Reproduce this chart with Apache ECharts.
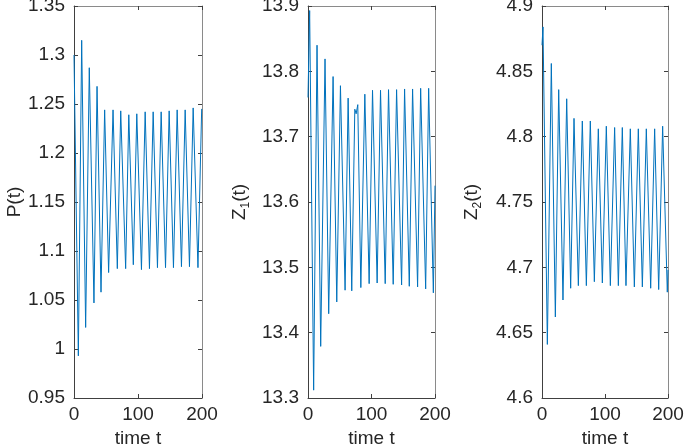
<!DOCTYPE html>
<html><head><meta charset="utf-8">
<script src="https://cdn.jsdelivr.net/npm/echarts@6/dist/echarts.min.js"></script>
<style>html,body{margin:0;padding:0;background:#fff}#c{width:685px;height:445px}</style>
</head><body><div id="c"></div>
<script>
// P(t): times and values at turning points
const tP = [0, 6.8, 12, 18.2, 23.9, 31.2, 36, 42.2, 47.9, 54.1, 61, 67.7, 73, 80.7, 85.6, 92.7, 98.1, 105.4, 111.2, 117.9, 123.7, 130.4, 136.2, 143, 148.7, 155.4, 161.2, 167.9, 173.7, 180.4, 186.2, 193.7, 199.5];
const P  = [1.30, 0.993, 1.315, 1.022, 1.287, 1.047, 1.268, 1.058, 1.244, 1.078, 1.244, 1.082, 1.243, 1.082, 1.239, 1.086, 1.240, 1.081, 1.242, 1.082, 1.242, 1.083, 1.242, 1.083, 1.243, 1.083, 1.244, 1.084, 1.244, 1.084, 1.246, 1.083, 1.245];
// Z1(t)
const tZ1 = [0, 2.6, 8.9, 14.2, 20, 26.8, 32.6, 39.5, 45.3, 51.1, 58.4, 63.2, 68.9, 73.7, 75.8, 78.4, 83.2, 89.5, 96.3, 101.6, 108.9, 114.2, 121.6, 126.8, 134.2, 139.5, 147.4, 152.1, 159.5, 164.7, 172.6, 177.4, 185.3, 190, 197.4, 200];
const Z1  = [13.76, 13.893, 13.312, 13.84, 13.379, 13.819, 13.429, 13.792, 13.447, 13.778, 13.465, 13.759, 13.464, 13.742, 13.735, 13.749, 13.469, 13.765, 13.475, 13.771, 13.476, 13.771, 13.475, 13.772, 13.474, 13.772, 13.473, 13.773, 13.471, 13.773, 13.470, 13.774, 13.467, 13.774, 13.461, 13.625];
// Z2(t)
const tZ2 = [0, 1.6, 8.5, 14.8, 21.2, 26.5, 33.3, 39.2, 45.5, 50.8, 57.7, 64, 70.4, 76.7, 83.1, 89.4, 95.8, 102.1, 108.5, 115.3, 121.2, 127.5, 133.3, 140.2, 146.6, 152.9, 159.3, 165.6, 172.5, 178.8, 185.2, 191.5, 198.9, 200];
const Z2  = [4.87, 4.884, 4.641, 4.856, 4.662, 4.836, 4.675, 4.829, 4.684, 4.814, 4.686, 4.812, 4.686, 4.812, 4.689, 4.806, 4.688, 4.808, 4.686, 4.807, 4.686, 4.807, 4.686, 4.806, 4.685, 4.806, 4.685, 4.806, 4.684, 4.806, 4.683, 4.808, 4.681, 4.698];

const xTicks = [0, 200, 100];      // min, max, interval
const panels = [
  {t: tP, v: P, yMin: 0.95, yMax: 1.35, yInt: 0.05, name: '{a|P(t)}', left: 74, width: 128, gap: 47},
  {t: tZ1, v: Z1, yMin: 13.3, yMax: 13.9, yInt: 0.1, name: '{a|Z}{b|1}{a|(t)}', left: 308, width: 127, gap: 56},
  {t: tZ2, v: Z2, yMin: 4.6, yMax: 4.9, yInt: 0.05, name: '{a|Z}{b|2}{a|(t)}', left: 542, width: 126, gap: 58}
];
const FONT = 'Liberation Sans, Arial, Helvetica, sans-serif';
const TXT = '#262626';
const AX = '#404040';
const AX2 = '#8a8a8a';
const FS = 19;

const grid = [], xAxis = [], yAxis = [], series = [];
panels.forEach((p, i) => {
  grid.push({left: p.left, top: 6, width: p.width, height: 392, containLabel: false, outerBoundsMode: 'none'});
  xAxis.push({
    type: 'value', gridIndex: i, min: xTicks[0], max: xTicks[1], interval: xTicks[2],
    position: 'bottom',
    name: 'time t', nameLocation: 'middle', nameGap: 25,
    nameTextStyle: {fontFamily: FONT, fontSize: FS, color: TXT},
    axisLine: {show: true, onZero: false, lineStyle: {color: AX, width: 1}},
    axisTick: {show: true, inside: true, length: 4, lineStyle: {color: AX}},
    axisLabel: {fontFamily: FONT, fontSize: FS, color: TXT, margin: 7},
    splitLine: {show: false}
  });
  xAxis.push({
    type: 'value', gridIndex: i, min: xTicks[0], max: xTicks[1], interval: xTicks[2],
    position: 'top',
    axisLine: {show: true, onZero: false, lineStyle: {color: AX2, width: 1}},
    axisTick: {show: true, inside: true, length: 4, lineStyle: {color: AX}},
    axisLabel: {show: false}, splitLine: {show: false}
  });
  yAxis.push({
    type: 'value', gridIndex: i, min: p.yMin, max: p.yMax, interval: p.yInt,
    position: 'left',
    name: p.name, nameLocation: 'middle', nameGap: p.gap, nameRotate: 90,
    nameTextStyle: {
      fontFamily: FONT, color: TXT,
      rich: {
        a: {fontFamily: FONT, fontSize: FS, color: TXT, lineHeight: 24},
        b: {fontFamily: FONT, fontSize: 12, color: TXT, lineHeight: 12, verticalAlign: 'bottom'}
      }
    },
    axisLine: {show: true, onZero: false, lineStyle: {color: AX, width: 1}},
    axisTick: {show: true, inside: true, length: 4, lineStyle: {color: AX}},
    axisLabel: {fontFamily: FONT, fontSize: FS, color: TXT, margin: 9},
    splitLine: {show: false}
  });
  yAxis.push({
    type: 'value', gridIndex: i, min: p.yMin, max: p.yMax, interval: p.yInt,
    position: 'right',
    axisLine: {show: true, onZero: false, lineStyle: {color: AX2, width: 1}},
    axisTick: {show: true, inside: true, length: 4, lineStyle: {color: AX}},
    axisLabel: {show: false}, splitLine: {show: false}
  });
  series.push({
    type: 'line', xAxisIndex: 2 * i, yAxisIndex: 2 * i,
    data: p.t.map((t, k) => [t, p.v[k]]),
    showSymbol: false, symbol: 'none',
    lineStyle: {color: '#0072BD', width: 1},
    itemStyle: {color: '#0072BD'},
    clip: true
  });
});

const chart = echarts.init(document.getElementById('c'), null, {renderer: 'canvas'});
chart.setOption({animation: false, backgroundColor: '#fff', grid, xAxis, yAxis, series});
</script>
</body></html>
